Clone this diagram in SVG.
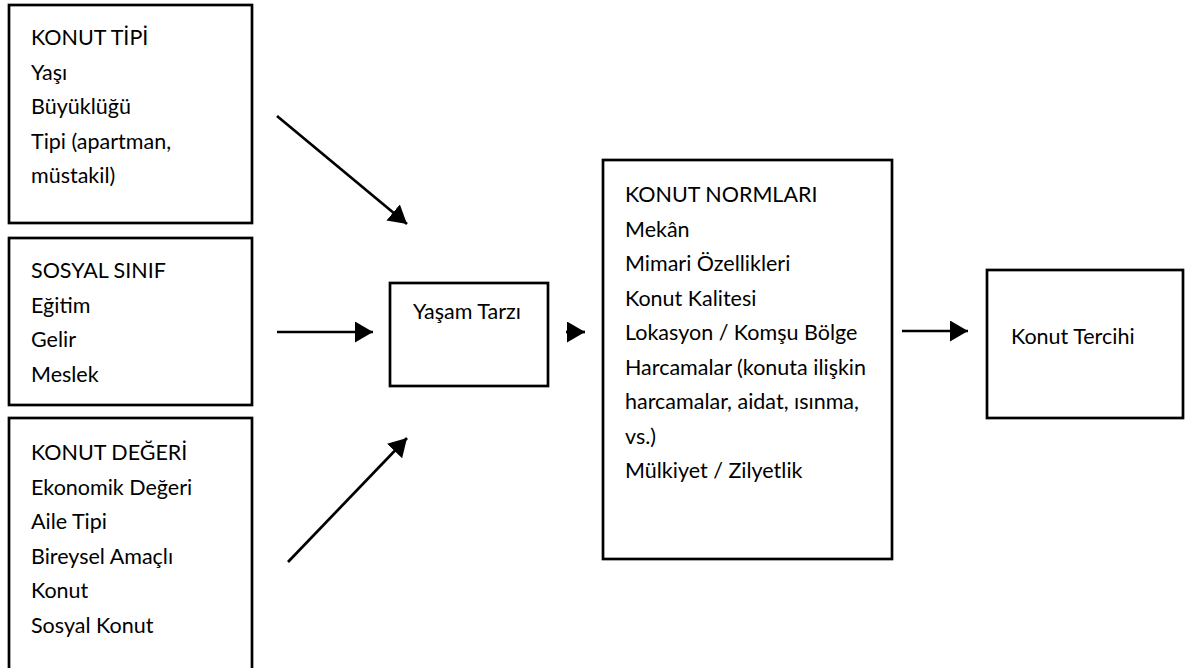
<svg xmlns="http://www.w3.org/2000/svg" width="1186" height="668" viewBox="0 0 1186 668">
<defs>
<style>
.box{fill:#fff;stroke:#000;stroke-width:2.7}
.t{font-family:Lato,"Open Sans",sans-serif;font-size:21.5px;fill:#000}
.c{stroke:#000;stroke-width:2.7;fill:none;marker-end:url(#ah)}
</style>
<marker id="ah" markerUnits="userSpaceOnUse" markerWidth="19" markerHeight="21" refX="18" refY="10.5" orient="auto" viewBox="0 0 19 21">
<path d="M0,0 L18,10.5 L0,21 Z" fill="#000"/>
</marker>
</defs>
<rect width="1186" height="668" fill="#fff"/>
<g id="konut-tipi">
<rect class="box" x="9" y="5" width="243" height="218"/>
<text class="t"><tspan x="31" y="45">KONUT TİPİ</tspan><tspan x="31" y="79.5">Yaşı</tspan><tspan x="31" y="114">Büyüklüğü</tspan><tspan x="31" y="148.5">Tipi (apartman,</tspan><tspan x="31" y="183">müstakil)</tspan></text>
</g>
<g id="sosyal-sinif">
<rect class="box" x="9" y="238" width="243" height="167"/>
<text class="t"><tspan x="31" y="278">SOSYAL SINIF</tspan><tspan x="31" y="312.5">Eğitim</tspan><tspan x="31" y="347">Gelir</tspan><tspan x="31" y="381.5">Meslek</tspan></text>
</g>
<g id="konut-degeri">
<rect class="box" x="9" y="418" width="243" height="270"/>
<text class="t"><tspan x="31" y="460">KONUT DEĞERİ</tspan><tspan x="31" y="494.5">Ekonomik Değeri</tspan><tspan x="31" y="529">Aile Tipi</tspan><tspan x="31" y="563.5">Bireysel Amaçlı</tspan><tspan x="31" y="598">Konut</tspan><tspan x="31" y="632.5">Sosyal Konut</tspan></text>
</g>
<g id="yasam-tarzi">
<rect class="box" x="390" y="283" width="158" height="103"/>
<text class="t" x="413" y="319">Yaşam Tarzı</text>
</g>
<g id="konut-normlari">
<rect class="box" x="603" y="160" width="289" height="399"/>
<text class="t"><tspan x="625" y="202">KONUT NORMLARI</tspan><tspan x="625" y="236.5">Mekân</tspan><tspan x="625" y="271">Mimari Özellikleri</tspan><tspan x="625" y="305.5">Konut Kalitesi</tspan><tspan x="625" y="340">Lokasyon / Komşu Bölge</tspan><tspan x="625" y="374.5">Harcamalar (konuta ilişkin</tspan><tspan x="625" y="409">harcamalar, aidat, ısınma,</tspan><tspan x="625" y="443.5">vs.)</tspan><tspan x="625" y="478">Mülkiyet / Zilyetlik</tspan></text>
</g>
<g id="konut-tercihi">
<rect class="box" x="987" y="270" width="196" height="148"/>
<text class="t" x="1011" y="344">Konut Tercihi</text>
</g>
<g id="connectors">
<line class="c" x1="277" y1="116" x2="407" y2="224"/>
<line class="c" x1="277" y1="332" x2="373" y2="332"/>
<line class="c" x1="288" y1="562" x2="407" y2="438"/>
<line class="c" x1="566" y1="332" x2="585" y2="332"/>
<line class="c" x1="902" y1="331" x2="968" y2="331"/>
</g>
</svg>
